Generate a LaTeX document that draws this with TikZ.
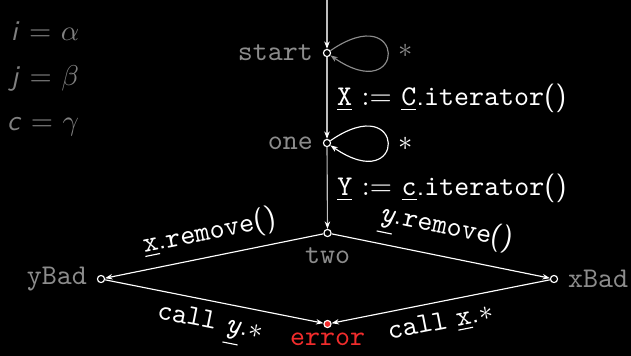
\documentclass[tikz,border=0pt]{standalone}
\usepackage{fontspec}
\usetikzlibrary{arrows.meta}
\definecolor{dimtext}{HTML}{8C8C8C}
\definecolor{eqtext}{HTML}{808080}
\definecolor{trunk}{HTML}{BEBEBE}
\definecolor{errred}{HTML}{F02C2C}

\begin{document}
\begin{tikzpicture}[x=0.35pt, y=-0.35pt, font=\sffamily, >={Stealth[length=2.6pt,width=1.9pt]},
  loc/.style={circle, draw=white, fill=black, line width=0.4pt, inner sep=0pt, minimum size=2.5pt},
  tag/.style={text=dimtext, font=\ttfamily},
  tr/.style={->, white, line width=0.4pt},
  eq/.style={text=eqtext, anchor=base}]
  \useasboundingbox (0,0) rectangle (631,355);
  \fill[black] (-6,-6) rectangle (637,361);
  % bindings
  \node[eq] (bindi) at (45,40) {\textit{i} = $\alpha$};
  \node[eq] (bindj) at (45,85) {\textit{j} = $\beta$};
  \node[eq] (bindc) at (43,130) {\textit{c} = $\gamma$};
  % locations
  \coordinate (entry) at (327,0);
  \node[loc, label={[tag]left:start}] (start) at (327,53) {};
  \node[loc, label={[tag]left:one}] (one) at (327,143) {};
  \node[loc, label={[tag]below:two}] (two) at (327.5,233) {};
  \node[loc, label={[tag]left:yBad}] (ybad) at (101,279) {};
  \node[loc, label={[tag]right:xBad}] (xbad) at (554,279) {};
  \node[loc, fill=errred, label={[tag, text=errred, inner sep=1.5pt]below:error}] (error) at (327.5,324) {};
  % trunk
  \draw[trunk, -{Stealth[length=2.6pt,width=1.9pt,color=white]}] (entry) -- (start);
  \draw[trunk, -{Stealth[length=2.6pt,width=1.9pt,color=white]}] (start) -- node[right, white]
    {\underline{\texttt{X}} $:=$ \underline{\texttt{C}}.\texttt{iterator}()} (one);
  \draw[trunk, -{Stealth[length=2.6pt,width=1.9pt,color=white]}] (one) -- node[right, white]
    {\underline{\texttt{Y}} $:=$ \underline{\texttt{c}}.\texttt{iterator}()} (two);
  % self loops
  \draw[->, dimtext] (start) .. controls +(80,-55) and +(80,55) .. (start);
  \node[text=dimtext] (anystart) at (406,51) {$*$};
  \draw[tr] (one) .. controls +(80,-55) and +(80,55) .. (one);
  \node[white] (anyone) at (406,144) {$*$};
  % diamond
  \draw[tr, <-] (ybad) -- node[above, sloped, white]
    {\underline{\texttt{x}}.\texttt{remove}()} (two);
  \draw[tr] (two) -- node[above, sloped, white]
    {\underline{\texttt{\itshape y}}.\texttt{remove}()} (xbad);
  \draw[tr] (ybad) -- node[below, sloped, white]
    {\texttt{call} \underline{\texttt{\itshape y}}.$*$} (error);
  \draw[tr, <-] (error) -- node[below, sloped, white, pos=0.48]
    {\texttt{call} \underline{\texttt{x}}.$*$} (xbad);
\end{tikzpicture}
\end{document}
